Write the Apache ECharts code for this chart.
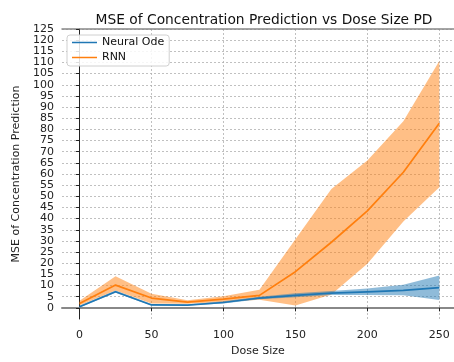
<!DOCTYPE html>
<html>
<head>
<meta charset="utf-8">
<script src="https://cdn.jsdelivr.net/npm/echarts@6.0.0/dist/echarts.min.js"></script>
<style>
  html, body { margin: 0; padding: 0; background: #fff; overflow: hidden; }
  #chart { width: 454px; height: 362px; }
</style>
</head>
<body>
<div id="chart"></div>
<script>
// Dose sizes on the x axis
const doses = [0, 25, 50, 75, 100, 125, 150, 175, 200, 225, 250];

// Neural ODE: mean MSE and its spread
const odeMean = [0.5, 7.2, 1.3, 1.2, 2.4, 4.4, 5.6, 6.6, 7.2, 7.8, 9.1];
const odeLow  = [0.2, 6.8, 1.0, 1.0, 2.0, 3.8, 4.8, 5.8, 5.8, 5.6, 3.5];
const odeHigh = [0.9, 7.8, 1.7, 1.5, 3.0, 5.0, 6.5, 7.5, 8.7, 10.3, 14.5];

// RNN: mean MSE and its spread
const rnnMean = [2.0, 10.2, 4.4, 2.6, 3.9, 5.6, 16.2, 29.4, 43.5, 60.8, 82.8];
const rnnLow  = [1.0, 7.8, 2.0, 1.8, 2.6, 3.6, 1.0, 6.0, 19.8, 38.7, 54.1];
const rnnHigh = [3.2, 14.2, 6.3, 3.4, 5.2, 8.1, 30.8, 53.3, 66.0, 83.6, 110.7];

// Tick values
const xTicks = [0, 50, 100, 150, 200, 250];
const yTicks = [];
for (let v = 0; v <= 125; v += 5) yTicks.push(v);

const BLUE = '#1f77b4';
const ORANGE = '#ff7f0e';
const FONT = 'DejaVu Sans';
const X_MIN = -12.2;
const X_MAX = 260.2;   // the axes run past the right edge of the page

// Shaded band between a low and a high curve, drawn as one polygon
function bandSeries(name, low, high, fill) {
  return {
    name: name,
    type: 'custom',
    silent: true,
    data: doses.map((d, i) => [d, low[i], high[i]]),
    encode: { x: 0, y: [1, 2] },
    renderItem: function (params, api) {
      if (params.dataIndex !== 0) return null;
      const pts = [];
      for (let i = 0; i < doses.length; i++) pts.push(api.coord([doses[i], high[i]]));
      for (let i = doses.length - 1; i >= 0; i--) pts.push(api.coord([doses[i], low[i]]));
      return { type: 'polygon', shape: { points: pts }, style: { fill: fill } };
    }
  };
}

function lineSeries(name, values, color) {
  return {
    name: name,
    type: 'line',
    data: doses.map((d, i) => [d, values[i]]),
    symbol: 'none',
    lineStyle: { color: color, width: 1.7 },
    itemStyle: { color: color }
  };
}

const chart = echarts.init(document.getElementById('chart'), null, { renderer: 'canvas' });

chart.setOption({
  animation: false,
  backgroundColor: '#fff',
  title: {
    text: 'MSE of Concentration Prediction vs Dose Size PD',
    left: 259,
    top: 8,
    textAlign: 'center',
    textStyle: { fontFamily: FONT, fontSize: 13.8, fontWeight: 'normal', color: '#111' }
  },
  legend: {
    data: ['Neural Ode', 'RNN'],
    orient: 'vertical',
    left: 67,
    top: 35,
    padding: [2, 5, 3, 5],
    itemGap: 4,
    itemWidth: 25,
    itemHeight: 13,
    icon: 'path://M0,0H50V3H0Z',
    borderColor: '#d0d0d0',
    borderWidth: 1,
    borderRadius: 3,
    backgroundColor: 'rgba(255,255,255,0.85)',
    textStyle: { fontFamily: FONT, fontSize: 11, color: '#111' }
  },
  grid: {
    left: 62,
    right: 0,
    top: 29,
    bottom: 38
  },
  xAxis: [{
    type: 'value',
    min: X_MIN,
    max: X_MAX,
    name: 'Dose Size',
    nameLocation: 'middle',
    nameGap: 27,
    nameTextStyle: { fontFamily: FONT, fontSize: 11, color: '#222' },
    axisLine: { lineStyle: { color: '#888', width: 2 } },
    axisTick: { customValues: xTicks, length: 3.5, lineStyle: { color: '#222' } },
    axisLabel: {
      customValues: xTicks,
      margin: 11,
      fontFamily: FONT, fontSize: 11, color: '#222'
    },
    splitLine: { show: true, lineStyle: { color: '#b0b0b0', type: [2, 2], width: 0.8 } }
  }, {
    // top frame line of the plot
    type: 'value',
    position: 'top',
    min: X_MIN,
    max: X_MAX,
    axisLine: { show: true, lineStyle: { color: '#888', width: 1.5 } },
    axisTick: { show: false },
    axisLabel: { show: false },
    splitLine: { show: false }
  }],
  yAxis: {
    type: 'value',
    min: -5,
    max: 125,
    interval: 5,
    name: 'MSE of Concentration Prediction',
    nameLocation: 'middle',
    nameGap: 29,
    nameTextStyle: { fontFamily: FONT, fontSize: 11, color: '#222' },
    axisLine: { show: true, lineStyle: { color: '#222', width: 1 } },
    axisTick: { show: true, customValues: yTicks, length: 3.5, lineStyle: { color: '#222' } },
    axisLabel: {
      customValues: yTicks,
      margin: 8,
      fontFamily: FONT, fontSize: 11, color: '#222'
    },
    splitLine: { show: true, lineStyle: { color: '#b0b0b0', type: [2, 2], width: 0.8 } }
  },
  series: [
    bandSeries('RNN band', rnnLow, rnnHigh, 'rgba(255,127,14,0.5)'),
    bandSeries('Neural Ode band', odeLow, odeHigh, 'rgba(31,119,180,0.5)'),
    lineSeries('Neural Ode', odeMean, BLUE),
    lineSeries('RNN', rnnMean, ORANGE)
  ]
});
</script>
</body>
</html>
